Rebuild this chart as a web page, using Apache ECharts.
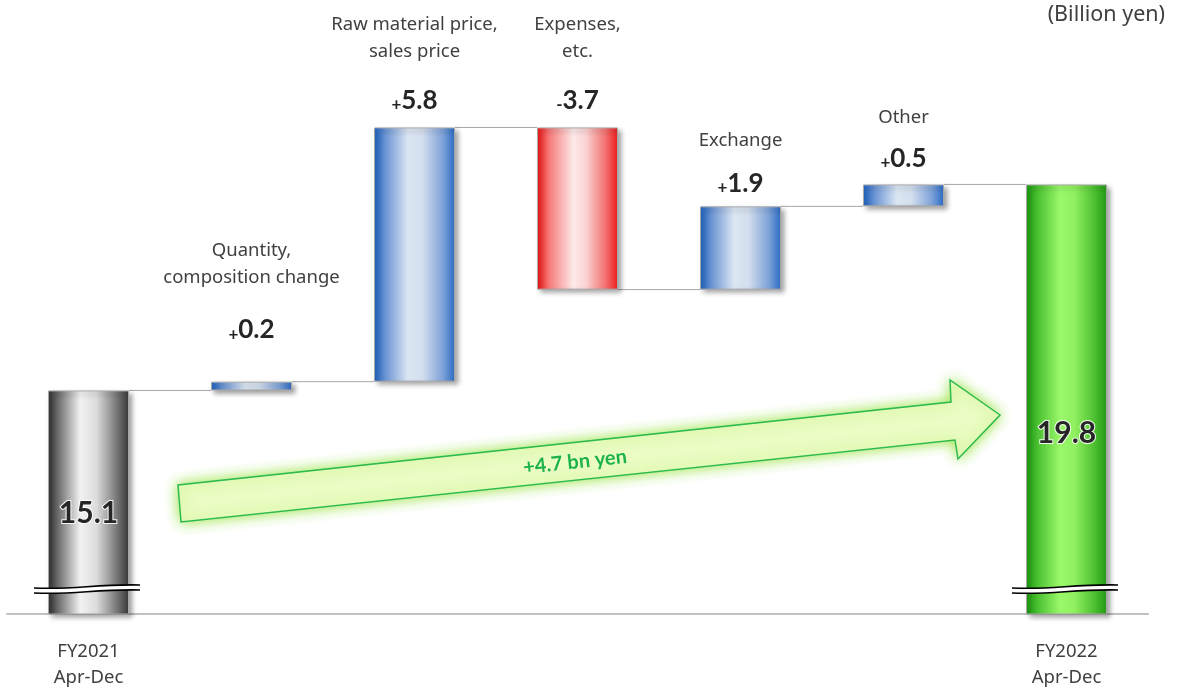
<!DOCTYPE html>
<html><head><meta charset="utf-8">
<script src="https://cdn.jsdelivr.net/npm/echarts@6/dist/echarts.min.js"></script>
<style>html,body{margin:0;padding:0;background:#fff}#c{width:1179px;height:692px}</style>
</head><body><div id="c"></div>
<script>
// ---- data ----
const axisLabels = ['FY2021\nApr-Dec', '', '', '', '', '', 'FY2022\nApr-Dec'];
const stepNames = ['', 'Quantity,\ncomposition change', 'Raw material price,\nsales price', 'Expenses,\netc.', 'Exchange', 'Other', ''];
const startValue = 15.1;
const endValue = 19.8;
const changes = [0.2, 5.8, -3.7, 1.9, 0.5];
const changeSigns = ['+', '+', '-', '+', '+'];
const changeTexts = ['0.2', '5.8', '3.7', '1.9', '0.5'];
const totalTexts = ['15.1', '19.8'];
const arrowText = '+4.7 bn yen';
const unitText = '(Billion yen)';
const yMin = 10, yMax = 22;

// ---- style (not data) ----
const FONT = '"Noto Sans", "Open Sans", sans-serif';
const NUMFONT = 'Lato, "Noto Sans", sans-serif';
const BAR_W = 81;
const valueGap = [0, 52, 27, 27, 23, 26, 0];   // px: value label centre above bar top
const nameGap = [0, 103, 75, 75, 65, 66, 0];  // px: last name line centre above bar top
const totalLabelLift = [102, 182];             // px above baseline

function grad(stops) {
  return { type: 'linear', x: 0, y: 0, x2: 1, y2: 0,
    colorStops: stops.map(s => ({ offset: s[0], color: s[1] })) };
}
const gGray = grad([[0, '#303030'], [0.12, '#6a6a6a'], [0.4, '#f2f2f2'], [0.6, '#dcdcdc'], [0.85, '#777'], [1, '#383838']]);
const gBlue = grad([[0, '#1c62c2'], [0.15, '#6e97d4'], [0.42, '#dce6f3'], [0.6, '#d3deee'], [0.85, '#7ea2d8'], [1, '#2a6bc4']]);
const gRed = grad([[0, '#ee1010'], [0.15, '#f77a7a'], [0.45, '#fde9e9'], [0.6, '#fbd4d4'], [0.85, '#f37070'], [1, '#ee1a1a']]);
const gGreen = grad([[0, '#1a9810'], [0.15, '#4cc232'], [0.42, '#9af86a'], [0.6, '#90f060'], [0.85, '#4cbf30'], [1, '#239a15']]);

// ---- waterfall computation ----
const n = axisLabels.length;
const base = [], height = [], topVal = [], levelAfter = [];
base.push(0); height.push(startValue); topVal.push(startValue); levelAfter.push(startValue);
let level = startValue;
changes.forEach(c => {
  const nl = +(level + c).toFixed(3);
  base.push(Math.min(level, nl)); height.push(Math.abs(c)); topVal.push(Math.max(level, nl));
  levelAfter.push(nl); level = nl;
});
base.push(0); height.push(endValue); topVal.push(endValue); levelAfter.push(endValue);

const shadow = { shadowColor: 'rgba(0,0,0,0.38)', shadowBlur: 5, shadowOffsetX: 3, shadowOffsetY: 3 };

const barData = height.map((h, i) => {
  let color, label;
  if (i === 0 || i === n - 1) {
    color = i === 0 ? gGray : gGreen;
    label = { show: true, position: 'insideBottom', distance: totalLabelLift[i === 0 ? 0 : 1] - 16,
      formatter: totalTexts[i === 0 ? 0 : 1], fontFamily: NUMFONT, fontWeight: 'bold', fontSize: 30,
      color: '#262626', textBorderColor: 'rgba(255,255,255,0.9)', textBorderWidth: 2 };
  } else {
    const k = i - 1;
    color = changes[k] < 0 ? gRed : gBlue;
    label = { show: true, position: 'top', distance: valueGap[i] - 15,
      formatter: '{s|' + changeSigns[k] + '}{v|' + changeTexts[k] + '}',
      rich: {
        s: { fontFamily: NUMFONT, fontWeight: 'bold', fontSize: 17, color: '#262626', lineHeight: 30, verticalAlign: 'bottom', padding: [0, 0, 2, 0] },
        v: { fontFamily: NUMFONT, fontWeight: 'bold', fontSize: 26, color: '#262626', lineHeight: 30 }
      } };
  }
  return { value: h, itemStyle: Object.assign({ color, borderColor: '#a8a8a8', borderWidth: 1 }, shadow), label };
});

const chart = echarts.init(document.getElementById('c'), null, { renderer: 'canvas' });

const option = {
  backgroundColor: '#fff',
  animation: false,
  grid: { left: 7, right: 31, top: 88, bottom: 78 },
  xAxis: {
    type: 'category', data: axisLabels,
    axisLine: { show: true, lineStyle: { color: '#c0c0c0', width: 2 } },
    axisTick: { show: false },
    axisLabel: { interval: 0, margin: 25, fontFamily: FONT, fontSize: 18.5, color: '#404040', lineHeight: 26 }
  },
  yAxis: { type: 'value', min: yMin, max: yMax, show: false, splitLine: { show: false } },
  series: [
    { type: 'bar', stack: 'w', barWidth: BAR_W, silent: true,
      itemStyle: { color: 'transparent' }, data: base },
    { type: 'bar', stack: 'w', barWidth: BAR_W, data: barData, z: 3 },
    { // connector lines
      type: 'custom', z: 2, silent: true,
      data: levelAfter.slice(0, n - 1).map((v, i) => [i, v]),
      renderItem(params, api) {
        const p = api.coord([api.value(0), api.value(1)]);
        const band = api.size([1, 0])[0];
        return { type: 'line', shape: { x1: p[0] + BAR_W / 2, y1: p[1], x2: p[0] + band - BAR_W / 2, y2: p[1] },
          style: { stroke: '#a6a6a6', lineWidth: 1 } };
      }
    },
    { // step names
      type: 'custom', z: 4, silent: true,
      data: topVal.map((v, i) => [i, v]).filter((d, i) => stepNames[i]),
      renderItem(params, api) {
        const i = api.value(0);
        const p = api.coord([i, api.value(1)]);
        return { type: 'text', style: { text: stepNames[i], x: p[0], y: p[1] - nameGap[i] + 13,
          align: 'center', verticalAlign: 'bottom', fontFamily: FONT, fontSize: 18.5, lineHeight: 27, fill: '#404040' } };
      }
    },
    { // axis break marks
      type: 'custom', z: 5, silent: true,
      data: [[0, yMin], [n - 1, yMin]],
      renderItem(params, api) {
        const p = api.coord([api.value(0), api.value(1)]);
        const x0 = p[0] - BAR_W / 2 - 14, x1 = p[0] + BAR_W / 2 + 11, y = p[1] - 27;
        const c1 = (yy) => `M${x0} ${yy + 1} C${x0 + 40} ${yy + 3} ${x1 - 45} ${yy - 3} ${x1} ${yy - 2}`;
        const fill = `M${x0} ${y + 1} C${x0 + 40} ${y + 3} ${x1 - 45} ${y - 3} ${x1} ${y - 2} L${x1} ${y + 3} C${x1 - 45} ${y + 2} ${x0 + 40} ${y + 8} ${x0} ${y + 6} Z`;
        return { type: 'group', children: [
          { type: 'path', shape: { pathData: fill }, style: { fill: '#fff', stroke: null } },
          { type: 'path', shape: { pathData: c1(y) }, style: { fill: null, stroke: '#000', lineWidth: 1.6 } },
          { type: 'path', shape: { pathData: `M${x0} ${y + 6} C${x0 + 40} ${y + 8} ${x1 - 45} ${y + 2} ${x1} ${y + 3}` }, style: { fill: null, stroke: '#000', lineWidth: 1.6 } }
        ] };
      }
    }
  ],
  graphic: [
    { type: 'text', right: 14, top: 4, style: { text: unitText, fontFamily: FONT, fontSize: 21.5, fill: '#404040' } },
    { type: 'polygon', z: 10,
      shape: { points: [[178, 485], [181, 522], [955, 440], [958, 459], [1000, 415], [950, 380], [951, 402]] },
      style: { fill: '#ebfcc4', stroke: '#2dba4e', lineWidth: 1.5, shadowBlur: 14, shadowColor: 'rgba(140,225,40,0.9)' } },
    { type: 'text', z: 11, x: 575, y: 462, rotation: 0.107,
      style: { text: arrowText, fontFamily: NUMFONT, fontSize: 20, fontWeight: 'bold', fill: '#1db34a', align: 'center', verticalAlign: 'middle' } }
  ]
};
chart.setOption(option);
</script>
</body></html>
